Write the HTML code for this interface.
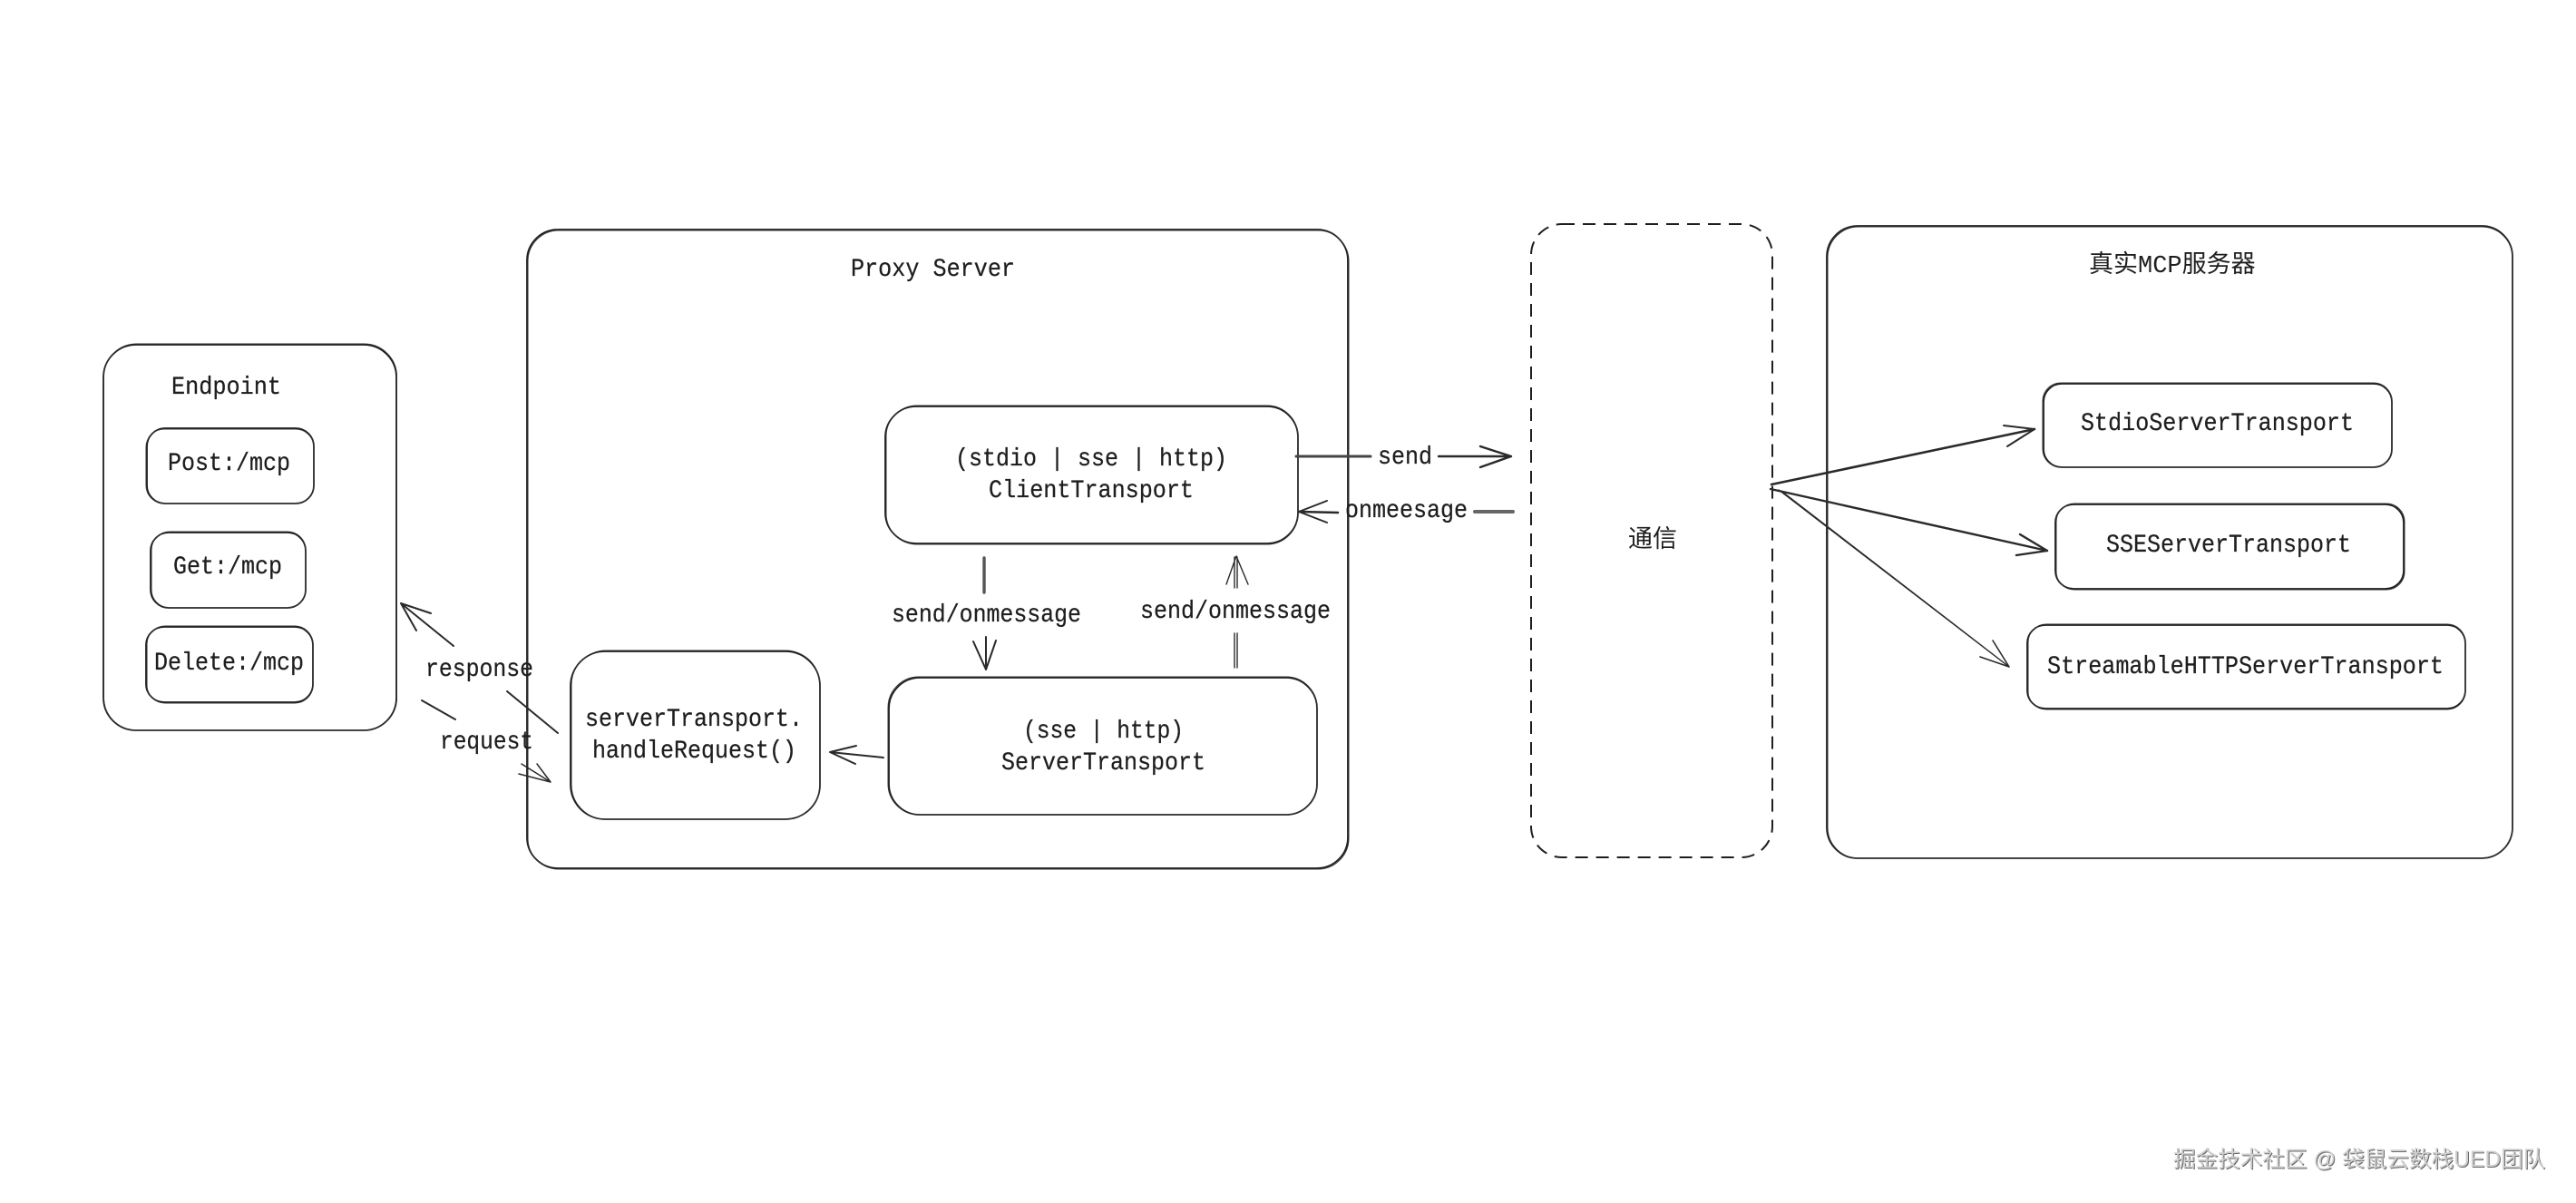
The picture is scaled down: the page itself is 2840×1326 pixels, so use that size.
<!DOCTYPE html>
<html><head><meta charset="utf-8"><style>
html,body{margin:0;padding:0;background:#fff;width:2840px;height:1326px;overflow:hidden}
svg{display:block;position:absolute;left:0;top:0}
text{font-family:"Liberation Mono","Noto Sans CJK SC",monospace;font-size:28px;fill:#1e1e1e;stroke:#1e1e1e;stroke-width:.25;}
.r{fill:none;stroke:#1e1e1e;stroke-width:1.8}
.s{fill:none;stroke:#333;stroke-width:1}
.l{fill:none;stroke:#2a2a2a;stroke-width:2;stroke-linecap:round;stroke-linejoin:round}
.cjk{font-family:"Liberation Mono","Noto Sans CJK SC",sans-serif;font-size:27px;stroke-width:0}
.wm{position:absolute;left:2396px;top:1263px;font:24.6px/32px "Liberation Sans","Noto Sans CJK SC",sans-serif;color:#cfcfcf;text-shadow:1px 1px 0 #6a6a6a;white-space:pre}
</style></head><body>
<svg width="2840" height="1326" viewBox="0 0 2840 1326" xmlns="http://www.w3.org/2000/svg">
<!-- Endpoint -->
<rect class="r" x="114" y="380" width="323" height="425" rx="36"/><rect class="s" x="114.5" y="379" width="323" height="426" rx="36"/>
<rect class="r" x="162" y="472" width="184" height="83" rx="20"/><rect class="s" x="161" y="473" width="185" height="82" rx="20"/>
<rect class="r" x="166" y="587" width="171" height="83" rx="20"/><rect class="s" x="167" y="586" width="170" height="84" rx="20"/>
<rect class="r" x="161" y="691" width="184" height="83" rx="20"/><rect class="s" x="162" y="690" width="183" height="85" rx="20"/>
<text x="189" y="434" textLength="121" lengthAdjust="spacingAndGlyphs">Endpoint</text>
<text x="185" y="518" textLength="135" lengthAdjust="spacingAndGlyphs">Post:/mcp</text>
<text x="191" y="632" textLength="120" lengthAdjust="spacingAndGlyphs">Get:/mcp</text>
<text x="170" y="738" textLength="165" lengthAdjust="spacingAndGlyphs">Delete:/mcp</text>
<!-- Proxy -->
<rect class="r" x="581" y="253" width="905" height="704" rx="34"/><rect class="s" x="582" y="254" width="905" height="704" rx="34"/>
<text x="938" y="304" textLength="181" lengthAdjust="spacingAndGlyphs">Proxy Server</text>
<rect class="r" x="976" y="448" width="455" height="151" rx="34"/><rect class="s" x="977" y="447" width="454" height="153" rx="34"/>
<text x="1053" y="513" textLength="300" lengthAdjust="spacingAndGlyphs">(stdio | sse | http)</text>
<text x="1090" y="548" textLength="226" lengthAdjust="spacingAndGlyphs">ClientTransport</text>
<rect class="r" x="980" y="747" width="472" height="151" rx="34"/><rect class="s" x="979" y="746" width="473" height="152" rx="34"/>
<text x="1128" y="813" textLength="177" lengthAdjust="spacingAndGlyphs">(sse | http)</text>
<text x="1104" y="848" textLength="225" lengthAdjust="spacingAndGlyphs">ServerTransport</text>
<rect class="r" x="629" y="718" width="275" height="185" rx="38"/><rect class="s" x="630" y="717" width="274" height="186" rx="38"/>
<text x="645" y="800" textLength="240" lengthAdjust="spacingAndGlyphs">serverTransport.</text>
<text x="653" y="835" textLength="225" lengthAdjust="spacingAndGlyphs">handleRequest()</text>
<!-- Dashed -->
<rect x="1688" y="247" width="266" height="698" rx="34" fill="none" stroke="#1e1e1e" stroke-width="2" stroke-dasharray="14 9"/>
<text class="cjk" x="1795" y="603">通信</text>
<!-- Real MCP -->
<rect class="r" x="2014" y="249" width="756" height="697" rx="34"/><rect class="s" x="2015" y="250" width="755" height="696" rx="34"/>
<text class="cjk" x="2303" y="300">真实<tspan style="font-size:27px">MCP</tspan>服务器</text>
<rect class="r" x="2253" y="423" width="384" height="92" rx="20"/><rect class="s" x="2252" y="422" width="385" height="93" rx="20"/>
<text x="2294" y="474" textLength="301" lengthAdjust="spacingAndGlyphs">StdioServerTransport</text>
<rect class="r" x="2266" y="556" width="384" height="93" rx="20"/><rect class="s" x="2267" y="555" width="384" height="95" rx="20"/>
<text x="2322" y="608" textLength="270" lengthAdjust="spacingAndGlyphs">SSEServerTransport</text>
<rect class="r" x="2235" y="689" width="483" height="92" rx="20"/><rect class="s" x="2236" y="688" width="482" height="94" rx="20"/>
<text x="2257" y="742" textLength="437" lengthAdjust="spacingAndGlyphs">StreamableHTTPServerTransport</text>
<!-- Labels -->
<text x="469" y="745" textLength="119" lengthAdjust="spacingAndGlyphs">response</text>
<text x="485" y="825" textLength="103" lengthAdjust="spacingAndGlyphs">request</text>
<text x="1519" y="511" textLength="60" lengthAdjust="spacingAndGlyphs">send</text>
<text x="1483" y="570" textLength="135" lengthAdjust="spacingAndGlyphs">onmeesage</text>
<text x="983" y="685" textLength="209" lengthAdjust="spacingAndGlyphs">send/onmessage</text>
<text x="1257" y="681" textLength="210" lengthAdjust="spacingAndGlyphs">send/onmessage</text>
<!-- Arrows -->
<path class="l" d="M615 808L559 762M500 712L442 665M475 676L442 665L459 695"/>
<path class="l" d="M465 772L502 793"/>
<path class="l" style="stroke-width:1.5" d="M575 842L607 862M572 853L607 862M592 842L607 862"/>
<path class="l" d="M974 835L915 829M944 822L915 829L943 842"/>
<path class="l" style="stroke:#444;stroke-width:3" d="M1429 503L1511 503"/>
<path class="l" style="stroke-width:2.4" d="M1586 503L1666 503M1632 492L1666 503L1632 515"/>
<path class="l" style="stroke:#666;stroke-width:4" d="M1626 564L1668 564"/>
<path class="l" style="stroke-width:2.6" d="M1475 565L1432 564"/>
<path class="l" d="M1463 552L1432 564L1463 576"/>
<path class="l" style="stroke:#555;stroke-width:3.4" d="M1085 615L1085 653"/>
<path class="l" d="M1087 702L1087 738M1073 707L1087 738L1098 706"/>
<path class="l" style="stroke-width:1.4" d="M1361 736L1361 698M1364 736L1364 698M1361 648L1361 614M1364 648L1364 614M1352 644L1363 613L1376 644"/>
<path class="l" style="stroke-width:2.6" d="M1953 534L2243 473"/>
<path class="l" d="M2209 469L2243 473L2213 492"/>
<path class="l" style="stroke-width:2.4" d="M1952 539L2257 607"/>
<path class="l" style="stroke-width:2.4" d="M2227 589L2257 607L2223 612"/>
<path class="l" style="stroke-width:1.4" d="M1961 540L2215 735M1965 542L2215 735"/>
<path class="l" style="stroke-width:1.6" d="M2197 706L2215 735L2183 724"/>
</svg>
<div class="wm">掘金技术社区 @ 袋鼠云数栈UED团队</div>
</body></html>
